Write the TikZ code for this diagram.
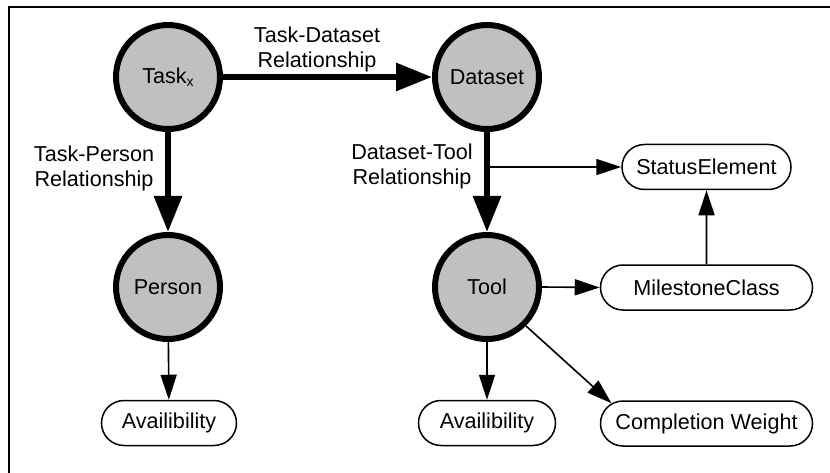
\documentclass[tikz,border=0pt]{standalone}
\usepackage{fontspec}
\setmainfont{Liberation Sans}
\usetikzlibrary{arrows.meta,shapes.misc}
\definecolor{nodegray}{RGB}{192,192,192}
\newcommand\diagfont{\fontsize{21.6}{25}\selectfont}
\begin{document}
\begin{tikzpicture}[x=1pt,y=-1pt,
  entity/.style={circle, draw=black, line width=6pt, fill=nodegray,
    minimum size=104pt, inner sep=0pt, font=\diagfont},
  attr/.style={rounded rectangle, draw=black, line width=1.5pt,
    minimum height=45pt, inner sep=0pt, font=\diagfont},
  rel/.style={line width=6pt, -{Triangle[length=36pt,width=27pt]}},
  link/.style={line width=1.6pt, -{Triangle[length=25pt,width=16pt]}},
  lbl/.style={align=center, font=\diagfont, inner sep=0pt}
]
\useasboundingbox (0,0) rectangle (830,473);
\clip (0,0) rectangle (830,473);
% outer frame
\draw[line width=2pt] (9,7.5) rectangle (845,490);

% main entities
\node[entity] (task)    at (168,77)  {Task\raisebox{-0.3ex}{\fontsize{14}{14}\selectfont x}};
\node[entity] (dataset) at (487,77)  {Dataset};
\node[entity] (person)  at (168,287) {Person};
\node[entity] (tool)    at (487,287) {Tool};

% attribute boxes
\node[attr, minimum width=135pt] (avp)  at (169,423)   {Availibility};
\node[attr, minimum width=137pt] (avt)  at (487,423)   {Availibility};
\node[attr, minimum width=212pt] (cw)   at (706.5,423.5) {Completion Weight};
\node[attr, minimum width=212pt] (ms)   at (706.5,287.5) {MilestoneClass};
\node[attr, minimum width=169pt] (se)   at (706.5,167) {StatusElement};

% relationship labels
\node[lbl] (tdl) at (317,49)  {Task-Dataset\\Relationship};
\node[lbl] (tpl) at (94,168)  {Task-Person\\Relationship};
\node[lbl] (dtl) at (412,166) {Dataset-Tool\\Relationship};

% relationships
\draw[rel] (task) -- (dataset);
\draw[rel] (task) -- (person);
\draw[rel] (dataset) -- (tool);

% branch from the Dataset-Tool link
\coordinate (br) at (487,167);
\draw[link] (br) -- (se.west);

% attribute links
\draw[link] (person) -- (avp);
\draw[link] (tool) -- (avt);
\draw[link] (tool.east) -- (ms.west);
\draw[link] (ms) -- (se);
\draw[link] (tool.-45) -- (cw.168);
\end{tikzpicture}
\end{document}
